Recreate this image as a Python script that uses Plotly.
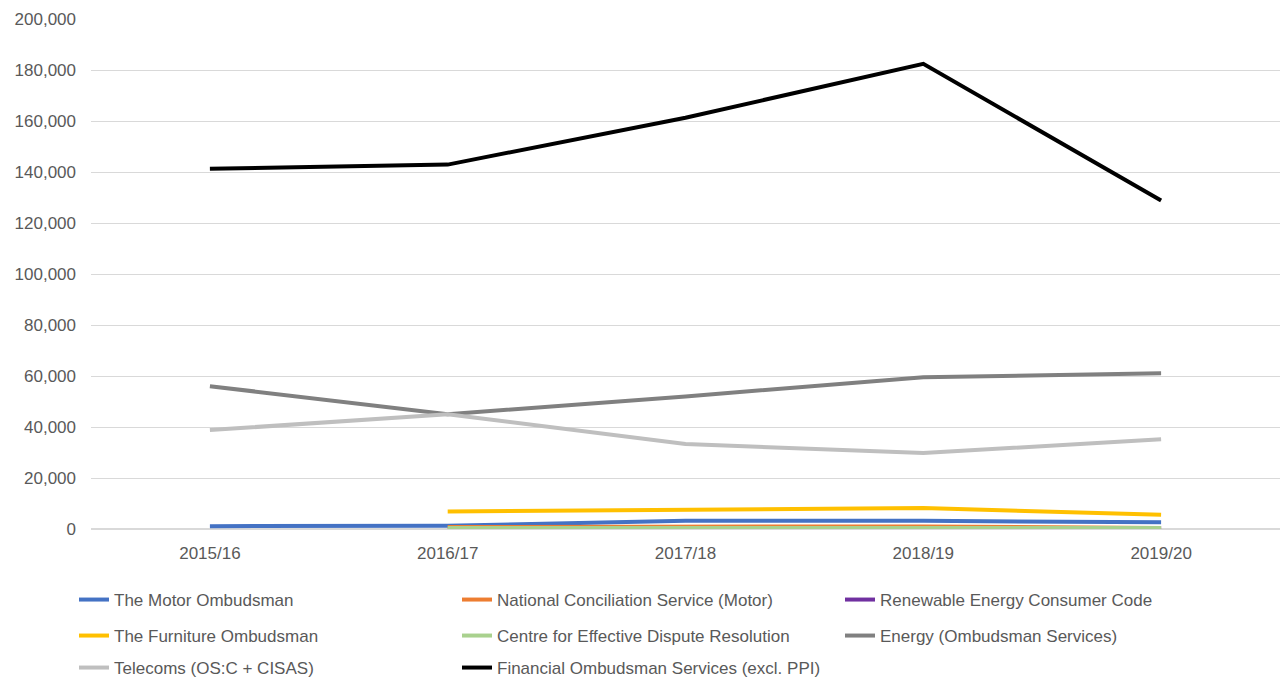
import plotly.graph_objects as go

years = ["2015/16", "2016/17", "2017/18", "2018/19", "2019/20"]

motor = [1100, 1300, 3200, 3200, 2600]
ncs_motor = [None, 800, 900, 1000, 400]
renewable = [None, None, 100, 100, 150]
furniture = [None, 6900, 7400, 8200, 5600]
cedr = [None, 400, 400, 400, 400]
energy = [56000, 45000, 52000, 59500, 61100]
telecoms = [38800, 45000, 33300, 29800, 35200]
financial = [141300, 142900, 161300, 182400, 128800]

series = [
    ("The Motor Ombudsman", motor, "#4472C4", "legend"),
    ("National Conciliation Service (Motor)", ncs_motor, "#ED7D31", "legend"),
    ("Renewable Energy Consumer Code", renewable, "#7030A0", "legend"),
    ("The Furniture Ombudsman", furniture, "#FFC000", "legend2"),
    ("Centre for Effective Dispute Resolution", cedr, "#A9D18E", "legend2"),
    ("Energy (Ombudsman Services)", energy, "#808080", "legend2"),
    ("Telecoms (OS:C + CISAS)", telecoms, "#BFBFBF", "legend3"),
    ("Financial Ombudsman Services (excl. PPI)", financial, "#000000", "legend3"),
]

fig = go.Figure()
for name, vals, color, lg in series:
    fig.add_trace(go.Scatter(
        x=years, y=vals, name=name, mode="lines",
        line=dict(color=color, width=4),
        legend=lg, connectgaps=False,
    ))

font = dict(family="Liberation Sans, Arial, sans-serif", size=17, color="#595959")
L, R, T, B = 91, 0, 19, 156
W = 1280 - L - R
H = 686 - T - B

def leg(row_y):
    return dict(
        orientation="h", x=(74 - 91) / W, xanchor="left",
        y=-(row_y - 530) / H, yanchor="middle",
        entrywidth=338, entrywidthmode="pixels",
        font=font, bgcolor="rgba(0,0,0,0)", itemwidth=30,
    )

fig.update_layout(
    width=1280, height=686,
    margin=dict(l=L, r=R, t=T, b=B),
    paper_bgcolor="white", plot_bgcolor="white",
    font=font,
    showlegend=True,
    legend=leg(600),
    legend2=leg(636),
    legend3=leg(669),
    xaxis=dict(showgrid=False, showline=False, ticks="", tickfont=font,
               range=[-0.5, 4.5], automargin=False, ticklabelstandoff=12),
    yaxis=dict(range=[0, 200000], dtick=20000, tickformat=",d",
               showgrid=True, gridcolor="#D9D9D9", gridwidth=1,
               zeroline=True, zerolinecolor="#D9D9D9", zerolinewidth=1.5,
               showline=False, tickfont=font, ticklabelstandoff=14,
               automargin=False),
)

fig.write_html("out.html")
